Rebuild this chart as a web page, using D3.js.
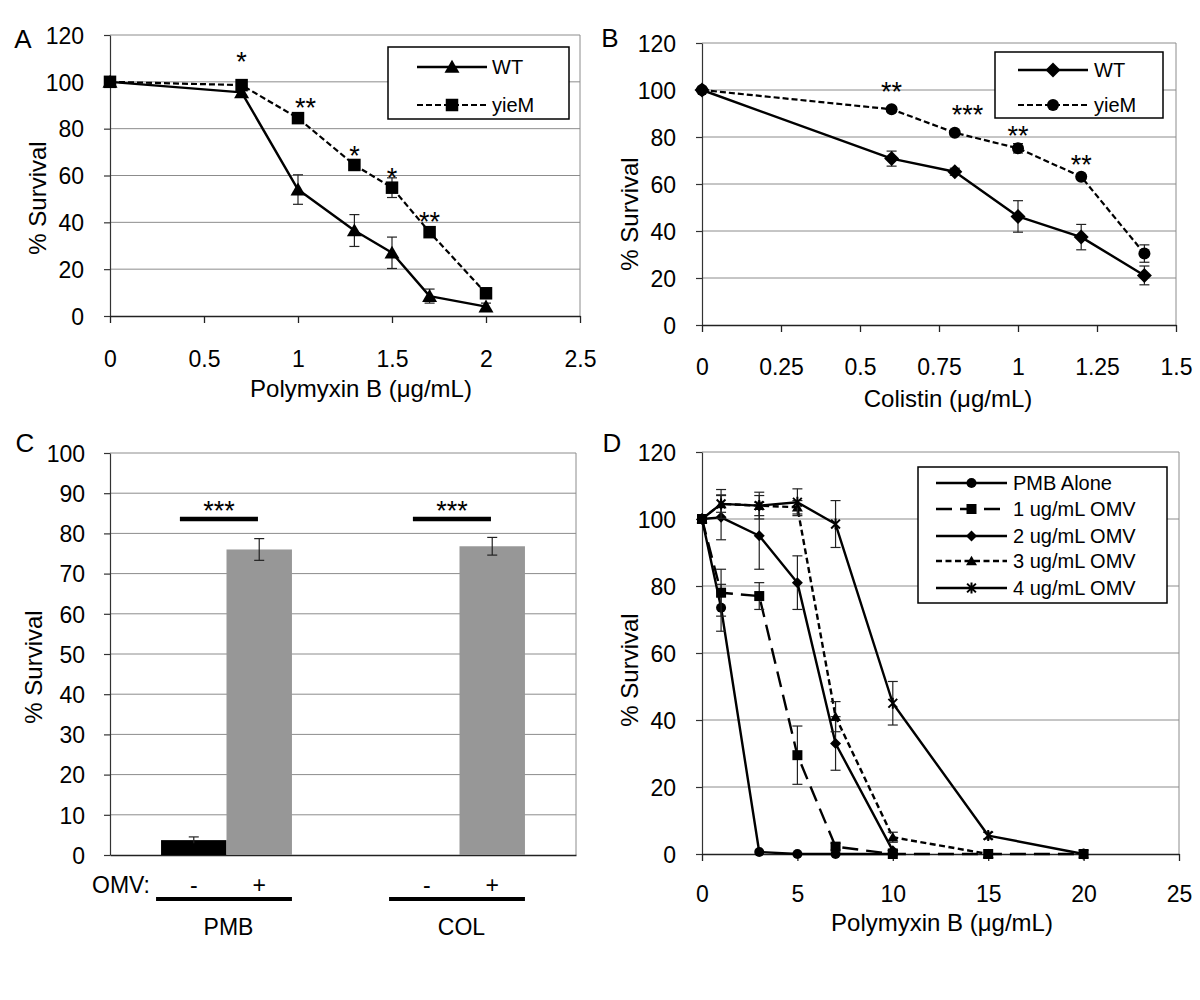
<!DOCTYPE html>
<html><head><meta charset="utf-8">
<script src="https://cdn.jsdelivr.net/npm/d3@7"></script>
<style>
body{margin:0;background:#fff}
text{font-family:"Liberation Sans",Arial,sans-serif;fill:#000}
</style>
</head><body>
<svg id="chart" width="1200" height="1000"></svg>
<script>
// ---------------- DATA ----------------
// Panel A: Polymyxin B (ug/mL)
const aDose = [0, 0.7, 1, 1.3, 1.5, 1.7, 2];
const aWT = [100, 95.5, 54, 36.5, 27, 8.5, 4];
const aWTErr = [0, 1, 6.3, 6.8, 6.7, 3, 1.5];
const aYieM = [100, 98.6, 84.5, 64.5, 54.8, 35.8, 9.7];
const aYieMErr = [0, 1, 1.5, 1.5, 4.2, 1.5, 1];
const aStarX = [0.7, 1.04, 1.3, 1.5, 1.7];
const aStarY = [111, 91.5, 71, 61.5, 43];
const aStarText = ["*", "**", "*", "*", "**"];
const aXTicks = [0, 0.5, 1, 1.5, 2, 2.5];
const aXTickLabels = ["0", "0.5", "1", "1.5", "2", "2.5"];
const aYTicks = [0, 20, 40, 60, 80, 100, 120];

// Panel B: Colistin (ug/mL)
const bDose = [0, 0.6, 0.8, 1, 1.2, 1.4];
const bWT = [100, 70.8, 65.2, 46.2, 37.4, 21.1];
const bWTErr = [0, 3.2, 1.5, 6.7, 5.4, 4];
const bYieM = [100, 91.8, 81.8, 75.2, 63.1, 30.4];
const bYieMErr = [0, 1, 1, 2, 1, 3.7];
const bStarX = [0.6, 0.84, 1, 1.2];
const bStarY = [102, 92, 83, 71];
const bStarText = ["**", "***", "**", "**"];
const bXTicks = [0, 0.25, 0.5, 0.75, 1, 1.25, 1.5];
const bXTickLabels = ["0", "0.25", "0.5", "0.75", "1", "1.25", "1.5"];
const bYTicks = [0, 20, 40, 60, 80, 100, 120];

// Panel C: bars
const cCategories = ["PMB", "COL"];
const cOMV = ["-", "+"];
const cMinus = [3.7, 0];
const cMinusErr = [0.8, 0];
const cPlus = [76, 76.8];
const cPlusErr = [2.7, 2.2];
const cSigLevel = [83.6, 83.6];
const cSigText = ["***", "***"];
const cYTicks = [0, 10, 20, 30, 40, 50, 60, 70, 80, 90, 100];

// Panel D: Polymyxin B with OMV
const dSeriesNames = ["PMB Alone", "1 ug/mL OMV", "2 ug/mL OMV", "3 ug/mL OMV", "4 ug/mL OMV"];
const dDose = [0, 1, 3, 5, 7, 10, 15, 20];
const dPMB = [100, 73.5, 0.6, 0, 0, 0];
const dPMBErr = [0, 7, 0, 0, 0, 0];
const d1ug = [100, 78, 77, 29.5, 2.2, 0, 0, 0];
const d1ugErr = [0, 7, 4, 8.7, 1, 0, 0, 0];
const d2ug = [100, 100.5, 95, 81, 33, 1];
const d2ugErr = [0, 6.7, 10, 8, 8, 0.5];
const d3ug = [100, 104.5, 104, 103.5, 41, 5, 0];
const d3ugErr = [0, 2.5, 3, 2, 4.5, 1.5, 0];
const d4ug = [100, 104.5, 104, 105, 98.5, 45, 5.5, 0];
const d4ugErr = [0, 4.3, 4, 4, 7, 6.5, 1, 0];
const dXTicks = [0, 5, 10, 15, 20, 25];
const dXTickLabels = ["0", "5", "10", "15", "20", "25"];
const dYTicks = [0, 20, 40, 60, 80, 100, 120];

// ---------------- DRAWING ----------------
const svg = d3.select("#chart");
const FONT_TICK = 23, FONT_TITLE = 24, FONT_LETTER = 26, FONT_LEG = 20, FONT_STAR = 27;
const GRID = "#8c8c8c";

function marker(g, type, cx, cy, s) {
  const k = g.append("g").attr("transform", `translate(${cx},${cy})`);
  if (type === "circle") {
    k.append("circle").attr("r", s / 2).attr("fill", "#000");
  } else if (type === "square") {
    k.append("rect").attr("x", -s / 2).attr("y", -s / 2).attr("width", s).attr("height", s).attr("fill", "#000");
  } else if (type === "diamond") {
    const a = s / Math.SQRT2;
    k.append("rect").attr("x", -a / 2).attr("y", -a / 2).attr("width", a).attr("height", a)
      .attr("transform", "rotate(45)").attr("fill", "#000");
  } else if (type === "triangle") {
    const h = s * Math.sqrt(3) / 2;
    k.append("path").attr("d", `M0,${-h * 0.55}L${s / 2},${h * 0.45}L${-s / 2},${h * 0.45}Z`).attr("fill", "#000");
  } else if (type === "star") {
    const r = s / 2, q = r * 0.8;
    k.append("path").attr("d", `M0,${-r}L0,${r}M${-q},${-q}L${q},${q}M${-q},${q}L${q},${-q}`)
      .attr("stroke", "#000").attr("stroke-width", 2).attr("fill", "none");
  }
}

function basePanel(cfg) {
  const g = svg.append("g");
  const x = d3.scaleLinear().domain(cfg.xDomain).range([cfg.left, cfg.right]);
  const y = d3.scaleLinear().domain(cfg.yDomain).range([cfg.bottom, cfg.top]);
  g.append("g").selectAll("line").data(cfg.yTicks.filter(v => v !== cfg.yDomain[0])).join("line")
    .attr("x1", cfg.left).attr("x2", cfg.right).attr("y1", d => y(d)).attr("y2", d => y(d))
    .attr("stroke", GRID).attr("stroke-width", 1);
  g.append("line").attr("x1", cfg.right).attr("x2", cfg.right).attr("y1", cfg.top).attr("y2", cfg.bottom)
    .attr("stroke", GRID).attr("stroke-width", 1);
  const ya = g.append("g").attr("transform", `translate(${cfg.left},0)`)
    .call(d3.axisLeft(y).tickValues(cfg.yTicks).tickSize(6).tickSizeOuter(0).tickPadding(20));
  ya.selectAll("text").attr("font-size", FONT_TICK).attr("font-family", '"Liberation Sans",Arial,sans-serif').attr("dy", "0.36em");
  ya.selectAll("line,path").attr("stroke", "#333").attr("stroke-width", 1.2);
  g.append("text").attr("transform", `translate(${cfg.yTitleX},${cfg.yTitleY}) rotate(-90)`)
    .attr("text-anchor", "middle").attr("dy", "0.36em").attr("font-size", FONT_TITLE).text("% Survival");
  g.append("text").attr("x", cfg.letterX).attr("y", cfg.letterY).attr("dy", "0.36em")
    .attr("text-anchor", "middle").attr("font-size", FONT_LETTER).text(cfg.letter);
  return { g, x, y };
}

function xAxisNumeric(p, cfg) {
  const xa = p.g.append("g").attr("transform", `translate(0,${cfg.bottom})`)
    .call(d3.axisBottom(p.x).tickValues(cfg.xTicks).tickFormat((d, i) => cfg.xTickLabels[i])
      .tickSize(7).tickSizeOuter(0).tickPadding(cfg.xPad));
  xa.selectAll("text").attr("font-size", FONT_TICK).attr("font-family", '"Liberation Sans",Arial,sans-serif');
  xa.selectAll("line,path").attr("stroke", "#222").attr("stroke-width", 1.3);
  p.g.append("text").attr("x", cfg.xTitleX).attr("y", cfg.xTitleY).attr("dy", "0.36em")
    .attr("text-anchor", "middle").attr("font-size", FONT_TITLE).text(cfg.xTitle);
}

function errorBars(p, xs, ys, es, cap) {
  xs.forEach((xv, i) => {
    if (i >= ys.length || !es[i]) return;
    const cx = p.x(xv), y1 = p.y(ys[i] - es[i]), y2 = p.y(ys[i] + es[i]);
    const e = p.g.append("g").attr("stroke", "#222").attr("stroke-width", 1.2);
    e.append("line").attr("x1", cx).attr("x2", cx).attr("y1", y1).attr("y2", y2);
    e.append("line").attr("x1", cx - cap / 2).attr("x2", cx + cap / 2).attr("y1", y1).attr("y2", y1);
    e.append("line").attr("x1", cx - cap / 2).attr("x2", cx + cap / 2).attr("y1", y2).attr("y2", y2);
  });
}

function series(p, xs, ys, es, style) {
  const pts = ys.map((v, i) => [xs[i], v]);
  p.g.append("path").datum(pts)
    .attr("d", d3.line().x(d => p.x(d[0])).y(d => p.y(d[1])))
    .attr("fill", "none").attr("stroke", "#000").attr("stroke-width", style.width)
    .attr("stroke-dasharray", style.dash || null).attr("stroke-linejoin", "round");
  errorBars(p, xs, ys, es, style.cap);
  pts.forEach(d => marker(p.g, style.marker, p.x(d[0]), p.y(d[1]), style.size));
}

function stars(p, xs, ys, texts) {
  xs.forEach((xv, i) => {
    p.g.append("text").attr("x", p.x(xv)).attr("y", p.y(ys[i]) + FONT_STAR * 0.57)
      .attr("text-anchor", "middle").attr("font-size", FONT_STAR).text(texts[i]);
  });
}

function legend(box, entries) {
  const g = svg.append("g");
  g.append("rect").attr("x", box.x).attr("y", box.y).attr("width", box.w).attr("height", box.h)
    .attr("fill", "#fff").attr("stroke", "#000").attr("stroke-width", 1.5);
  entries.forEach((e, i) => {
    const yy = box.rows[i];
    g.append("line").attr("x1", box.lx1).attr("x2", box.lx2).attr("y1", yy).attr("y2", yy)
      .attr("stroke", "#000").attr("stroke-width", e.style.width).attr("stroke-dasharray", e.style.dash || null);
    marker(g, e.style.marker, (box.lx1 + box.lx2) / 2, yy, e.style.size);
    g.append("text").attr("x", box.tx).attr("y", yy).attr("dy", "0.36em").attr("font-size", FONT_LEG).text(e.name);
  });
}

// ---- Panel A ----
const cfgA = { left: 110, right: 580, top: 35, bottom: 316, xDomain: [0, 2.5], yDomain: [0, 120],
  yTicks: aYTicks, xTicks: aXTicks, xTickLabels: aXTickLabels, xPad: 28,
  xTitle: "Polymyxin B (\u03bcg/mL)", xTitleX: 361, xTitleY: 388, yTitleX: 37, yTitleY: 198,
  letter: "A", letterX: 23, letterY: 39 };
const pA = basePanel(cfgA);
xAxisNumeric(pA, cfgA);
const stA_WT = { marker: "triangle", size: 15, width: 2.4, cap: 10 };
const stA_Y = { marker: "square", size: 12.5, width: 2.2, dash: "6,3", cap: 10 };
series(pA, aDose, aWT, aWTErr, stA_WT);
series(pA, aDose, aYieM, aYieMErr, stA_Y);
stars(pA, aStarX, aStarY, aStarText);
legend({ x: 388, y: 47, w: 181, h: 72, lx1: 417, lx2: 487, tx: 492, rows: [67, 105] },
  [{ name: "WT", style: stA_WT }, { name: "yieM", style: stA_Y }]);

// ---- Panel B ----
const cfgB = { left: 702, right: 1176, top: 43, bottom: 325, xDomain: [0, 1.5], yDomain: [0, 120],
  yTicks: bYTicks, xTicks: bXTicks, xTickLabels: bXTickLabels, xPad: 27,
  xTitle: "Colistin (\u03bcg/mL)", xTitleX: 948, xTitleY: 398, yTitleX: 629, yTitleY: 214,
  letter: "B", letterX: 610, letterY: 38 };
const pB = basePanel(cfgB);
xAxisNumeric(pB, cfgB);
const stB_WT = { marker: "diamond", size: 15, width: 2.4, cap: 10 };
const stB_Y = { marker: "circle", size: 12, width: 2.2, dash: "6,3", cap: 10 };
series(pB, bDose, bYieM, bYieMErr, stB_Y);
series(pB, bDose, bWT, bWTErr, stB_WT);
stars(pB, bStarX, bStarY, bStarText);
legend({ x: 995, y: 52, w: 168, h: 66, lx1: 1018, lx2: 1088, tx: 1094, rows: [70, 105] },
  [{ name: "WT", style: stB_WT }, { name: "yieM", style: stB_Y }]);

// ---- Panel C ----
(function () {
  const left = 110, right = 576, top = 453, bottom = 855;
  const g = svg.append("g");
  const y = d3.scaleLinear().domain([0, 100]).range([bottom, top]);
  const xb = d3.scaleBand().domain(cCategories).range([left, right]);
  const xi = d3.scaleBand().domain(cOMV).range([0, xb.bandwidth()]).paddingOuter(0.78);
  g.append("g").selectAll("line").data(cYTicks.filter(v => v > 0)).join("line")
    .attr("x1", left).attr("x2", right).attr("y1", d => y(d)).attr("y2", d => y(d))
    .attr("stroke", GRID).attr("stroke-width", 1);
  g.append("line").attr("x1", right).attr("x2", right).attr("y1", top).attr("y2", bottom)
    .attr("stroke", GRID).attr("stroke-width", 1);
  const ya = g.append("g").attr("transform", `translate(${left},0)`)
    .call(d3.axisLeft(y).tickValues(cYTicks).tickSize(6).tickSizeOuter(0).tickPadding(19));
  ya.selectAll("text").attr("font-size", FONT_TICK).attr("font-family", '"Liberation Sans",Arial,sans-serif').attr("dy", "0.36em");
  ya.selectAll("line,path").attr("stroke", "#333").attr("stroke-width", 1.2);
  const xa = g.append("g").attr("transform", `translate(0,${bottom})`)
    .call(d3.axisBottom(xb).tickSize(0).tickSizeOuter(0).tickFormat(""));
  xa.selectAll("path").attr("stroke", "#222").attr("stroke-width", 1.3);

  const vals = { "-": cMinus, "+": cPlus };
  const errs = { "-": cMinusErr, "+": cPlusErr };
  const fills = { "-": "#000000", "+": "#979797" };
  cCategories.forEach((c, ci) => {
    cOMV.forEach(o => {
      const v = vals[o][ci];
      const bx = xb(c) + xi(o);
      g.append("rect").attr("x", bx).attr("y", y(v)).attr("width", xi.bandwidth())
        .attr("height", y(0) - y(v)).attr("fill", fills[o]);
      const e = errs[o][ci];
      if (e > 0) {
        const cx = bx + xi.bandwidth() / 2;
        const eg = g.append("g").attr("stroke", "#222").attr("stroke-width", 1.2);
        eg.append("line").attr("x1", cx).attr("x2", cx).attr("y1", y(v - e)).attr("y2", y(v + e));
        eg.append("line").attr("x1", cx - 5).attr("x2", cx + 5).attr("y1", y(v + e)).attr("y2", y(v + e));
        if (o === "+") eg.append("line").attr("x1", cx - 5).attr("x2", cx + 5).attr("y1", y(v - e)).attr("y2", y(v - e));
      }
      g.append("text").attr("x", bx + xi.bandwidth() / 2).attr("y", 885).attr("dy", "0.36em")
        .attr("text-anchor", "middle").attr("font-size", FONT_TICK).text(o);
    });
    const x1 = xb(c) + xb.bandwidth() * 0.3, x2 = xb(c) + xb.bandwidth() * 0.635;
    g.append("line").attr("x1", x1).attr("x2", x2).attr("y1", y(cSigLevel[ci])).attr("y2", y(cSigLevel[ci]))
      .attr("stroke", "#000").attr("stroke-width", 4.5);
    g.append("text").attr("x", (x1 + x2) / 2).attr("y", y(cSigLevel[ci]) - 10 + FONT_STAR * 0.57 - 4)
      .attr("text-anchor", "middle").attr("font-size", FONT_STAR).text(cSigText[ci]);
    const gl = xb(c) + xi(cOMV[0]) - 5, gr = xb(c) + xi(cOMV[1]) + xi.bandwidth();
    g.append("line").attr("x1", gl).attr("x2", gr).attr("y1", 899).attr("y2", 899)
      .attr("stroke", "#000").attr("stroke-width", 4);
    g.append("text").attr("x", xb(c) + xb.bandwidth() / 2 + 2).attr("y", 927).attr("dy", "0.36em")
      .attr("text-anchor", "middle").attr("font-size", FONT_TICK).text(c);
  });
  g.append("text").attr("x", 92).attr("y", 885).attr("dy", "0.36em").attr("font-size", FONT_TICK).text("OMV:");
  g.append("text").attr("transform", `translate(33,667) rotate(-90)`).attr("text-anchor", "middle")
    .attr("dy", "0.36em").attr("font-size", FONT_TITLE).text("% Survival");
  g.append("text").attr("x", 25).attr("y", 443).attr("dy", "0.36em").attr("text-anchor", "middle")
    .attr("font-size", FONT_LETTER).text("C");
})();

// ---- Panel D ----
const cfgD = { left: 702, right: 1179, top: 452, bottom: 854, xDomain: [0, 25], yDomain: [0, 120],
  yTicks: dYTicks, xTicks: dXTicks, xTickLabels: dXTickLabels, xPad: 25,
  xTitle: "Polymyxin B (\u03bcg/mL)", xTitleX: 942, xTitleY: 922, yTitleX: 629, yTitleY: 670,
  letter: "D", letterX: 612, letterY: 443 };
const pD = basePanel(cfgD);
xAxisNumeric(pD, cfgD);
const stD = [
  { marker: "circle", size: 10, width: 2.4, cap: 10 },
  { marker: "square", size: 10, width: 2.4, dash: "16,8", cap: 10 },
  { marker: "diamond", size: 11, width: 2.4, cap: 10 },
  { marker: "triangle", size: 11, width: 2.4, dash: "6,3.5", cap: 10 },
  { marker: "star", size: 11, width: 2.4, cap: 10 }
];
series(pD, dDose, dPMB, dPMBErr, stD[0]);
series(pD, dDose, d2ug, d2ugErr, stD[2]);
series(pD, dDose, d3ug, d3ugErr, stD[3]);
series(pD, dDose, d4ug, d4ugErr, stD[4]);
series(pD, dDose, d1ug, d1ugErr, stD[1]);
legend({ x: 918, y: 467, w: 249, h: 136, lx1: 936, lx2: 1007, tx: 1013, rows: [483, 509, 536, 561, 588] },
  dSeriesNames.map((n, i) => ({ name: n, style: stD[i] })));
</script>
</body></html>
